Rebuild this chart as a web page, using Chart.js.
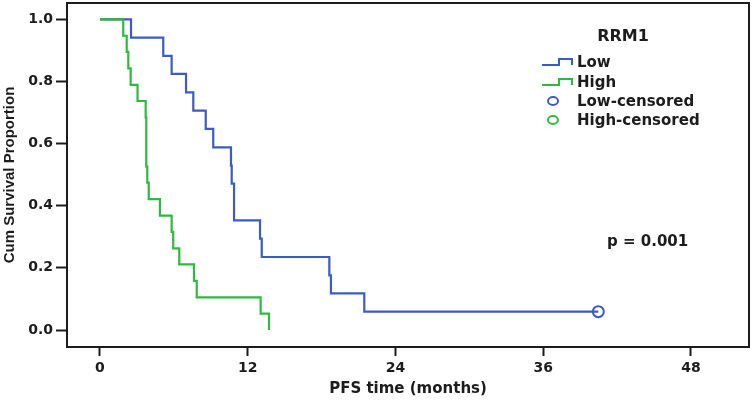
<!DOCTYPE html>
<html>
<head>
<meta charset="utf-8">
<script src="https://cdn.jsdelivr.net/npm/chart.js@4.4.1/dist/chart.umd.min.js"></script>
<style>
  body { margin: 0; background: #fff; }
  canvas { display: block; }
</style>
</head>
<body>
<canvas id="kmChart" width="752" height="404"></canvas>
<script>
// Kaplan-Meier steps (months, survival proportion)
const lowTimes = [0, 2.52, 5.14, 5.82, 6.99, 7.58, 8.59, 9.20, 10.64, 10.70, 10.89, 13.00, 13.14, 18.63, 18.76, 21.47, 40.48];
const lowSurv  = [1.0, 0.941, 0.882, 0.824, 0.765, 0.706, 0.647, 0.588, 0.529, 0.471, 0.353, 0.294, 0.235, 0.176, 0.118, 0.059, 0.059];

const highTimes = [0, 1.89, 2.17, 2.30, 2.49, 3.05, 3.71, 3.76, 3.84, 3.96, 4.87, 5.82, 5.95, 6.44, 7.64, 7.86, 13.05, 13.73];
const highSurv  = [1.0, 0.947, 0.895, 0.842, 0.789, 0.737, 0.684, 0.526, 0.474, 0.421, 0.368, 0.316, 0.263, 0.211, 0.158, 0.105, 0.053, 0.0];

const lowCensorTimes = [40.48];
const lowCensorSurv  = [0.059];

const xTicks = [0, 12, 24, 36, 48];
const yTicks = [0, 0.2, 0.4, 0.6, 0.8, 1.0];

const legendItems = ["Low", "High", "Low-censored", "High-censored"];
const legendTitle = "RRM1";
const pValueText = "p = 0.001";

const BLUE = "#3a5cc4";
const GREEN = "#2fb93f";
const INK = "#1c1c1c";

function toPoints(xs, ys) {
    return xs.map((x, i) => ({ x: x, y: ys[i] }));
}

const framePlugin = {
    id: "frame",
    afterDraw(chart) {
        const { ctx, chartArea: a } = chart;
        ctx.save();
        ctx.strokeStyle = INK;
        ctx.lineWidth = 2;
        ctx.strokeRect(a.left, a.top, a.right - a.left, a.bottom - a.top);

        // legend
        ctx.fillStyle = INK;
        ctx.textBaseline = "middle";
        ctx.textAlign = "center";
        ctx.font = "bold 16px 'DejaVu Sans'";
        ctx.fillText(legendTitle, 623, 37);

        ctx.textAlign = "left";
        ctx.font = "bold 15px 'DejaVu Sans'";
        const rows = [62, 82, 101, 120];
        const colors = [BLUE, GREEN, BLUE, GREEN];
        rows.forEach((y, i) => {
            ctx.strokeStyle = colors[i];
            ctx.lineWidth = 2;
            ctx.beginPath();
            if (i < 2) {
                ctx.moveTo(542, y + 3);
                ctx.lineTo(559, y + 3);
                ctx.lineTo(559, y - 3);
                ctx.lineTo(572, y - 3);
                ctx.lineTo(572, y + 3);
            } else {
                ctx.ellipse(553, y, 5, 4, 0, 0, Math.PI * 2);
            }
            ctx.stroke();
            ctx.fillStyle = INK;
            ctx.fillText(legendItems[i], 577, y + 1);
        });

        ctx.font = "bold 15px 'DejaVu Sans'";
        ctx.fillText(pValueText, 607, 242);
        ctx.restore();
    }
};

const ctx = document.getElementById("kmChart").getContext("2d");
new Chart(ctx, {
    type: "line",
    data: {
        datasets: [
            {
                label: "Low",
                data: toPoints(lowTimes, lowSurv),
                borderColor: BLUE,
                borderWidth: 2.2,
                stepped: "before",
                pointRadius: 0,
                fill: false,
                order: 1
            },
            {
                label: "High",
                data: toPoints(highTimes, highSurv),
                borderColor: GREEN,
                borderWidth: 2.2,
                stepped: "before",
                pointRadius: 0,
                fill: false,
                order: 0
            },
            {
                label: "Low-censored",
                data: toPoints(lowCensorTimes, lowCensorSurv),
                showLine: false,
                pointStyle: "circle",
                pointRadius: 5.5,
                pointBorderWidth: 2,
                pointBorderColor: BLUE,
                pointBackgroundColor: "rgba(0,0,0,0)",
                order: 0
            }
        ]
    },
    options: {
        responsive: false,
        animation: false,
        layout: { autoPadding: false, padding: { left: 0, top: 3, right: 3, bottom: 0 } },
        plugins: {
            legend: { display: false },
            tooltip: { enabled: false }
        },
        scales: {
            x: {
                type: "linear",
                min: -2.68,
                max: 52.72,
                afterBuildTicks: (scale) => { scale.ticks = xTicks.map(v => ({ value: v })); },
                afterFit: (scale) => {
                    scale.height = 57;
                    scale.paddingLeft = 0;
                    scale.paddingRight = 0;
                },
                border: { display: false },
                grid: { drawOnChartArea: false, drawTicks: true, tickLength: 9, tickWidth: 2, tickColor: INK },
                ticks: {
                    color: INK,
                    padding: 4,
                    maxRotation: 0,
                    font: { family: "'DejaVu Sans'", weight: "bold", size: 14 }
                },
                title: {
                    display: true,
                    text: "PFS time (months)",
                    color: INK,
                    padding: { top: 0, bottom: 6 },
                    font: { family: "'DejaVu Sans'", weight: "bold", size: 15 }
                }
            },
            y: {
                type: "linear",
                min: -0.0547,
                max: 1.0524,
                afterBuildTicks: (scale) => { scale.ticks = yTicks.map(v => ({ value: v })); },
                afterFit: (scale) => {
                    scale.width = 67;
                    scale.paddingTop = 0;
                    scale.paddingBottom = 0;
                },
                border: { display: false },
                grid: { drawOnChartArea: false, drawTicks: true, tickLength: 11, tickWidth: 2, tickColor: INK },
                ticks: {
                    color: INK,
                    padding: 3,
                    callback: (v) => Number(v).toFixed(1),
                    font: { family: "'DejaVu Sans'", weight: "bold", size: 14 }
                },
                title: {
                    display: true,
                    text: "Cum Survival Proportion",
                    color: INK,
                    padding: { top: 1, bottom: 0 },
                    font: { family: "'Liberation Sans'", weight: "bold", size: 15 }
                }
            }
        }
    },
    plugins: [framePlugin]
});
</script>
</body>
</html>
